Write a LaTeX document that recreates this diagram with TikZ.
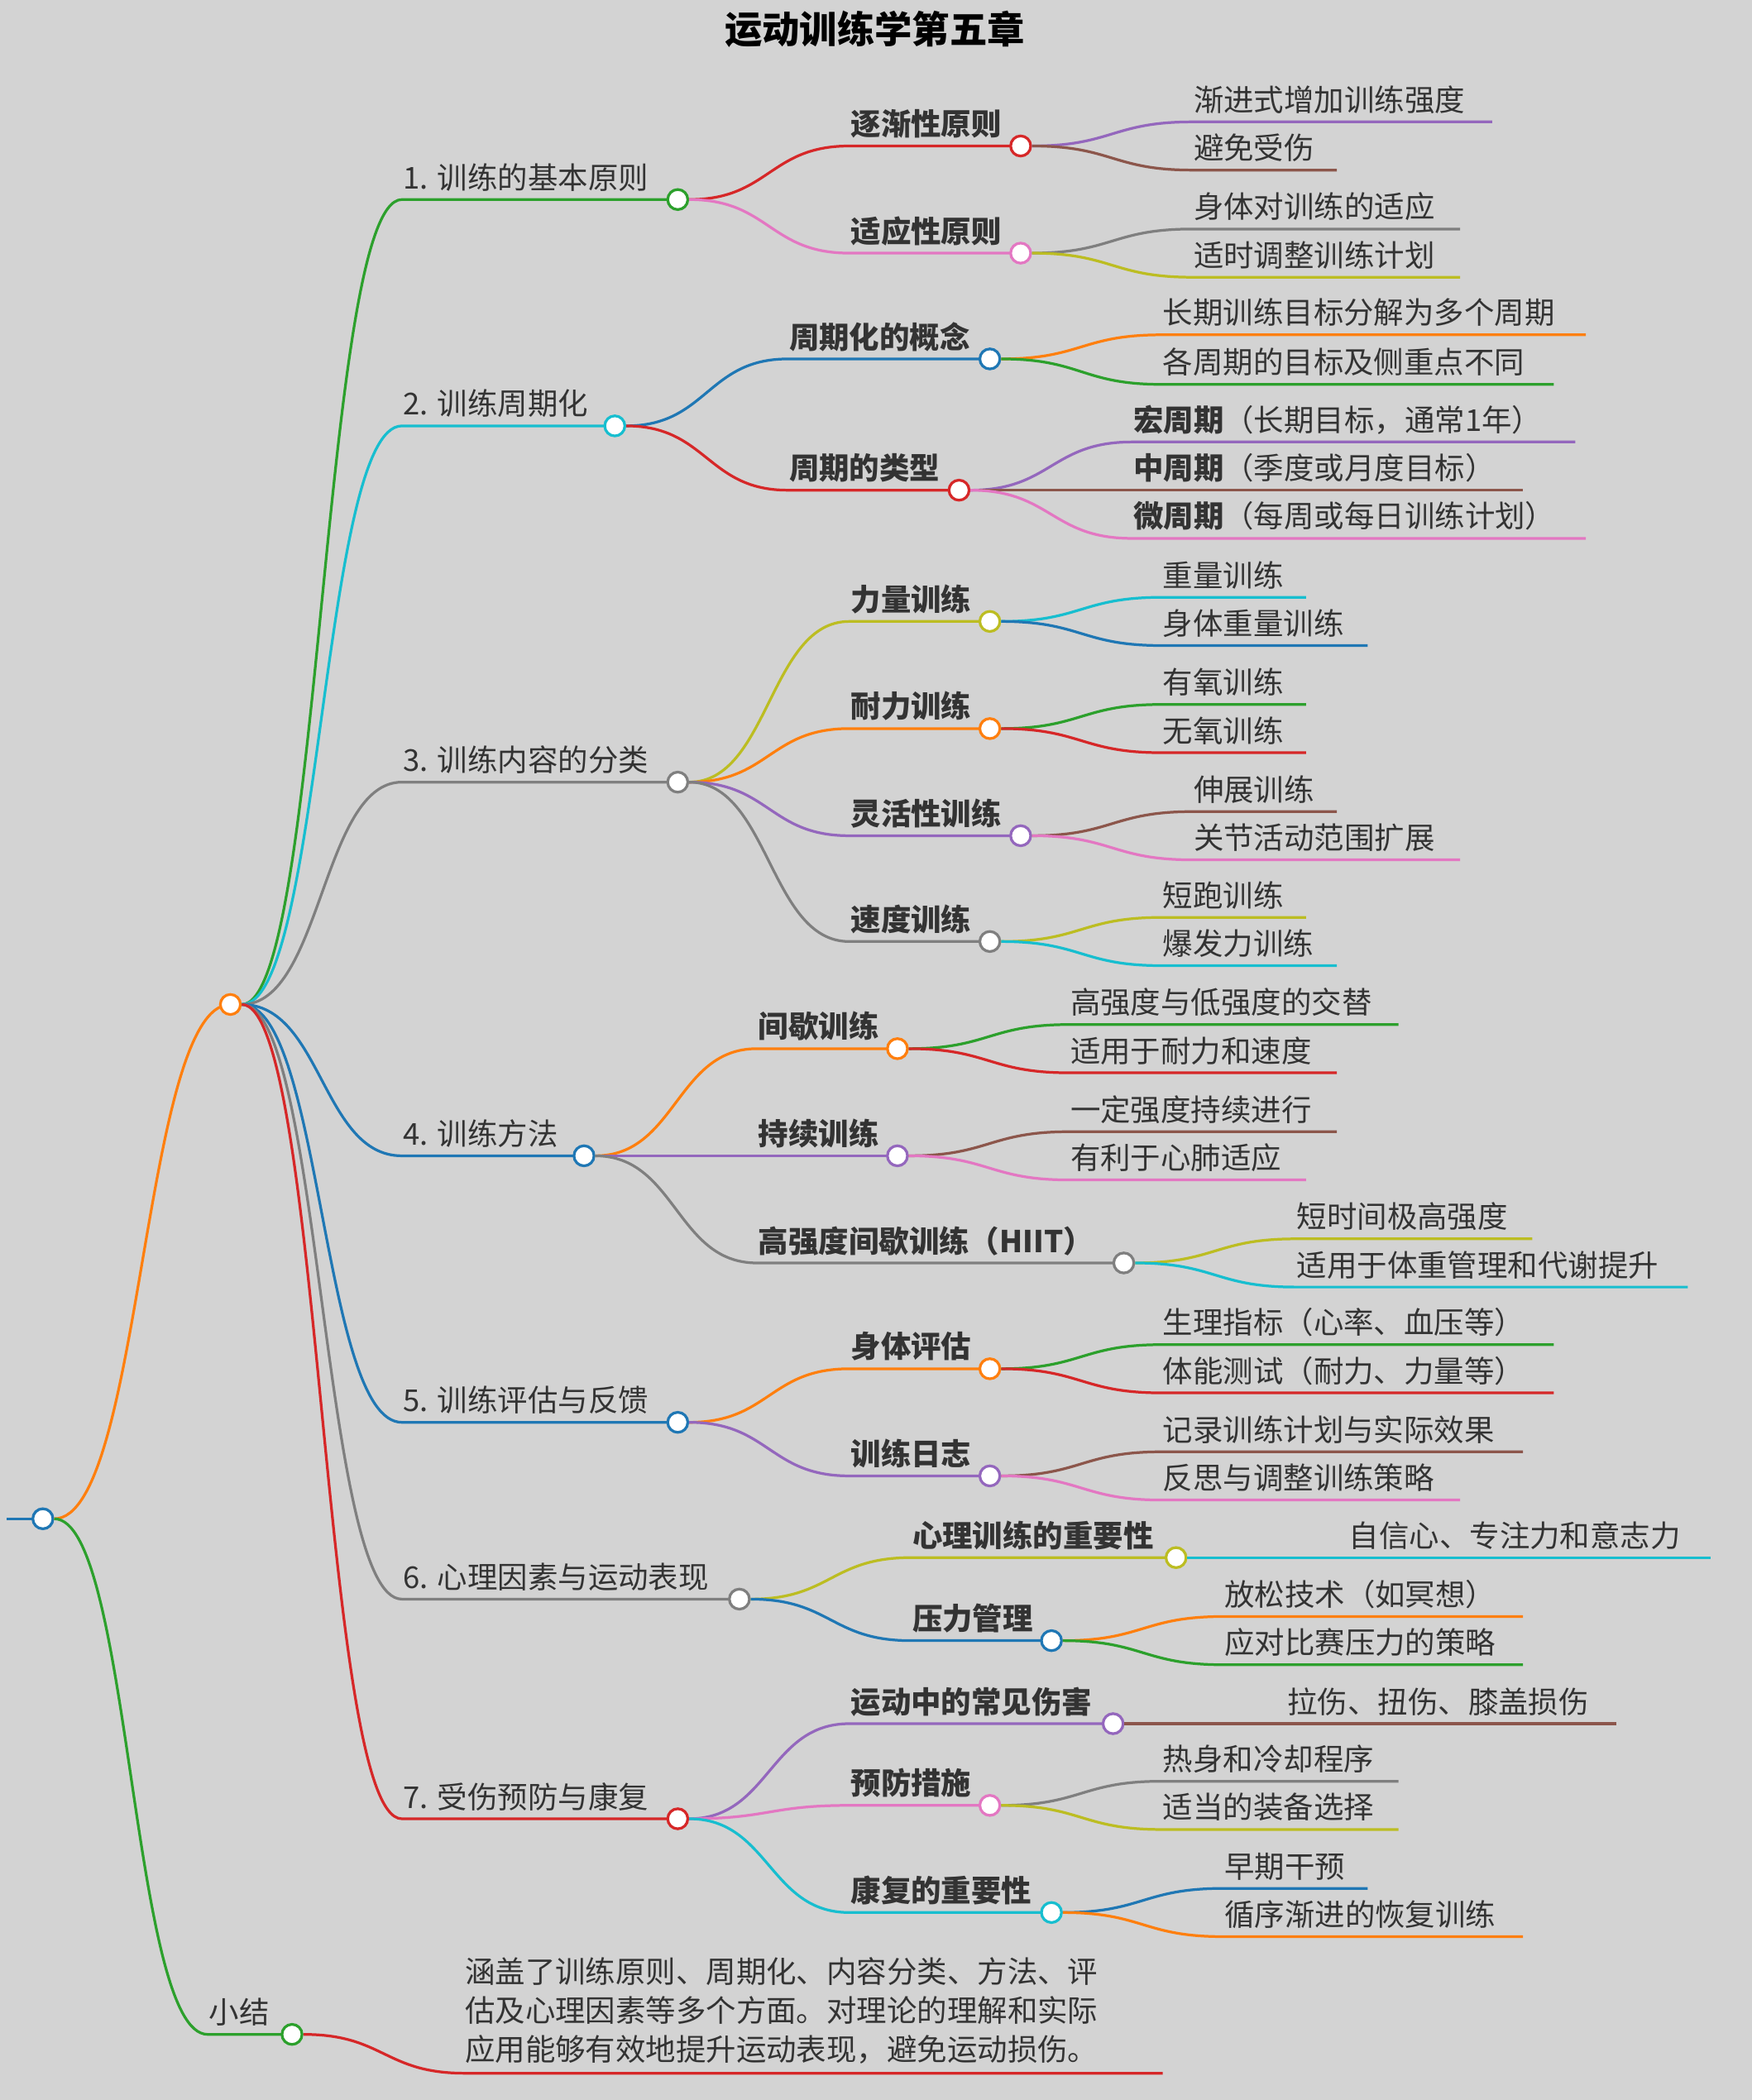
\documentclass[tikz,border=0pt]{standalone}
\usepackage{fontspec}
\setmainfont{Noto Sans CJK SC}
\usetikzlibrary{calc}
\definecolor{cgreen}{HTML}{2CA02C}
\definecolor{ccyan}{HTML}{17BECF}
\definecolor{cgray}{HTML}{7F7F7F}
\definecolor{cblue}{HTML}{1F77B4}
\definecolor{cred}{HTML}{D62728}
\definecolor{corange}{HTML}{FF7F0E}
\definecolor{cpurple}{HTML}{9467BD}
\definecolor{cbrown}{HTML}{8C564B}
\definecolor{cpink}{HTML}{E377C2}
\definecolor{colive}{HTML}{BCBD22}
\definecolor{bg}{HTML}{D3D3D3}
\definecolor{tc}{HTML}{333333}
\tikzset{
 edge/.style={line width=2pt},
 circ/.style={circle,draw=#1,fill=white,line width=2pt,minimum size=15pt,inner sep=0pt},
 lbl/.style={anchor=base west,inner sep=0pt,font=\fontsize{22.5}{27}\selectfont,text=tc},
}
\newcommand\mm[7]{%
 \coordinate (#2s) at (#3,#4); \coordinate (#2e) at (#5,#4);
 \draw[#6,edge] let \p1=(#1.east), \p2=(#2s) in (\p1) .. controls ({(\x1+\x2)/2},\y1) and ({(\x1+\x2)/2},\y2) .. (\p2) -- (#2e);
 \node[lbl] at ($(#2s)+(1,-8)$) {#7};
 \node[circ=#6] (#2) at (#2e) {};}
\newcommand\lf[7]{%
 \coordinate (#2s) at (#3,#4); \coordinate (#2e) at (#5,#4);
 \draw[#6,edge] let \p1=(#1.east), \p2=(#2s) in (\p1) .. controls ({(\x1+\x2)/2},\y1) and ({(\x1+\x2)/2},\y2) .. (\p2) -- (#2e);
 \node[lbl] at ($(#2s)+(1,-8)$) {#7};}
\begin{document}
\begin{tikzpicture}[x=1pt,y=-1pt]
\fill[bg] (0,0) rectangle (1308,1568);
\useasboundingbox (0,0) rectangle (1308,1568);
\node[font=\fontsize{28}{32}\selectfont\bfseries,text=black] (title) at (653,22) {运动训练学第五章};
\coordinate (r0) at (5,1134);
\draw[cblue,edge] (r0) -- (32,1134);
\node[circ=cblue] (root) at (32,1134) {};
\mm{root}{hub}{172}{750}{172}{corange}{}
% 1
\mm{hub}{a}{300}{149}{506}{cgreen}{1. 训练的基本原则}
\mm{a}{a1}{634}{109}{762}{cred}{\textbf{逐渐性原则}}
\lf{a1}{a11}{890}{91}{1114}{cpurple}{渐进式增加训练强度}
\lf{a1}{a12}{890}{127}{998}{cbrown}{避免受伤}
\mm{a}{a2}{634}{189}{762}{cpink}{\textbf{适应性原则}}
\lf{a2}{a21}{890}{171}{1090}{cgray}{身体对训练的适应}
\lf{a2}{a22}{890}{207}{1090}{colive}{适时调整训练计划}
% 2
\mm{hub}{b}{300}{318}{459}{ccyan}{2. 训练周期化}
\mm{b}{b1}{588}{268}{739}{cblue}{\textbf{周期化的概念}}
\lf{b1}{b11}{867}{250}{1184}{corange}{长期训练目标分解为多个周期}
\lf{b1}{b12}{867}{287}{1160}{cgreen}{各周期的目标及侧重点不同}
\mm{b}{b2}{588}{366}{716}{cred}{\textbf{周期的类型}}
\lf{b2}{b21}{845}{330}{1176}{cpurple}{\textbf{宏周期}（长期目标，通常1年）}
\lf{b2}{b22}{845}{366}{1137}{cbrown}{\textbf{中周期}（季度或月度目标）}
\lf{b2}{b23}{845}{402}{1184}{cpink}{\textbf{微周期}（每周或每日训练计划）}
% 3
\mm{hub}{c}{300}{584}{506}{cgray}{3. 训练内容的分类}
\mm{c}{c1}{634}{464}{739}{colive}{\textbf{力量训练}}
\lf{c1}{c11}{867}{446}{975}{ccyan}{重量训练}
\lf{c1}{c12}{867}{482}{1021}{cblue}{身体重量训练}
\mm{c}{c2}{634}{544}{739}{corange}{\textbf{耐力训练}}
\lf{c2}{c21}{867}{526}{975}{cgreen}{有氧训练}
\lf{c2}{c22}{867}{562}{975}{cred}{无氧训练}
\mm{c}{c3}{634}{624}{762}{cpurple}{\textbf{灵活性训练}}
\lf{c3}{c31}{890}{606}{998}{cbrown}{伸展训练}
\lf{c3}{c32}{890}{642}{1090}{cpink}{关节活动范围扩展}
\mm{c}{c4}{634}{703}{739}{cgray}{\textbf{速度训练}}
\lf{c4}{c41}{867}{685}{975}{colive}{短跑训练}
\lf{c4}{c42}{867}{721}{998}{ccyan}{爆发力训练}
% 4
\mm{hub}{d}{300}{863}{436}{cblue}{4. 训练方法}
\mm{d}{d1}{565}{783}{670}{corange}{\textbf{间歇训练}}
\lf{d1}{d11}{798}{765}{1044}{cgreen}{高强度与低强度的交替}
\lf{d1}{d12}{798}{801}{998}{cred}{适用于耐力和速度}
\mm{d}{d2}{565}{863}{670}{cpurple}{\textbf{持续训练}}
\lf{d2}{d21}{798}{845}{998}{cbrown}{一定强度持续进行}
\lf{d2}{d22}{798}{881}{975}{cpink}{有利于心肺适应}
\mm{d}{d3}{565}{943}{839}{cgray}{\textbf{高强度间歇训练（HIIT）}}
\lf{d3}{d31}{967}{925}{1144}{colive}{短时间极高强度}
\lf{d3}{d32}{967}{961}{1260}{ccyan}{适用于体重管理和代谢提升}
% 5
\mm{hub}{e}{300}{1062}{506}{cblue}{5. 训练评估与反馈}
\mm{e}{e1}{634}{1022}{739}{corange}{\textbf{身体评估}}
\lf{e1}{e11}{867}{1004}{1160}{cgreen}{生理指标（心率、血压等）}
\lf{e1}{e12}{867}{1040}{1160}{cred}{体能测试（耐力、力量等）}
\mm{e}{e2}{634}{1102}{739}{cpurple}{\textbf{训练日志}}
\lf{e2}{e21}{867}{1084}{1137}{cbrown}{记录训练计划与实际效果}
\lf{e2}{e22}{867}{1120}{1090}{cpink}{反思与调整训练策略}
% 6
\mm{hub}{f}{300}{1194}{552}{cgray}{6. 心理因素与运动表现}
\mm{f}{f1}{680}{1163}{878}{colive}{\textbf{心理训练的重要性}}
\lf{f1}{f11}{1006}{1163}{1277}{ccyan}{自信心、专注力和意志力}
\mm{f}{f2}{680}{1225}{785}{cblue}{\textbf{压力管理}}
\lf{f2}{f21}{913}{1207}{1137}{corange}{放松技术（如冥想）}
\lf{f2}{f22}{913}{1243}{1137}{cgreen}{应对比赛压力的策略}
% 7
\mm{hub}{g}{300}{1358}{506}{cred}{7. 受伤预防与康复}
\mm{g}{g1}{634}{1287}{831}{cpurple}{\textbf{运动中的常见伤害}}
\lf{g1}{g11}{960}{1287}{1207}{cbrown}{拉伤、扭伤、膝盖损伤}
\mm{g}{g2}{634}{1348}{739}{cpink}{\textbf{预防措施}}
\lf{g2}{g21}{867}{1330}{1044}{cgray}{热身和冷却程序}
\lf{g2}{g22}{867}{1366}{1044}{colive}{适当的装备选择}
\mm{g}{g3}{634}{1428}{785}{ccyan}{\textbf{康复的重要性}}
\lf{g3}{g31}{913}{1410}{1021}{cblue}{早期干预}
\lf{g3}{g32}{913}{1446}{1137}{corange}{循序渐进的恢复训练}
% summary
\mm{root}{h}{155}{1519}{218}{cgreen}{小结}
\coordinate (h1s) at (347,1548); \coordinate (h1e) at (868,1548);
\draw[cred,edge] let \p1=(h.east), \p2=(h1s) in (\p1) .. controls ({(\x1+\x2)/2},\y1) and ({(\x1+\x2)/2},\y2) .. (\p2) -- (h1e);
\node[anchor=south west,inner sep=0pt,align=left,font=\fontsize{22.5}{29}\selectfont,text=tc] (h1) at (347,1541) {涵盖了训练原则、周期化、内容分类、方法、评\\估及心理因素等多个方面。对理论的理解和实际\\应用能够有效地提升运动表现，避免运动损伤。};
\end{tikzpicture}
\end{document}
